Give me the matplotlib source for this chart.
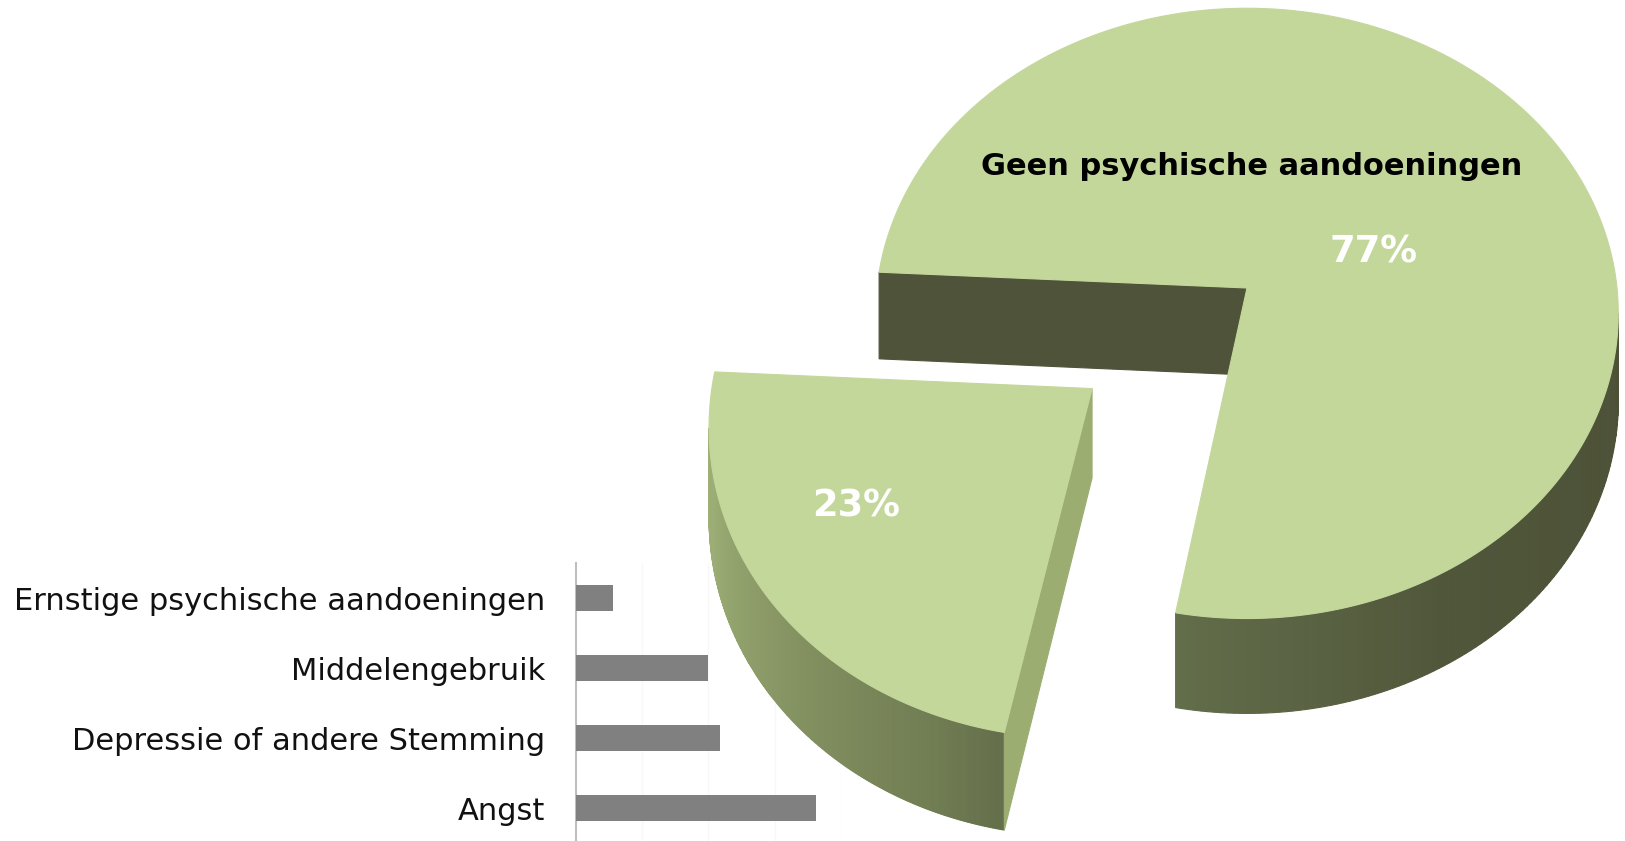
import numpy as np
import matplotlib.pyplot as plt
from matplotlib.patches import Polygon

# pie: people with / without a psychiatric disorder (%)
pie_names = ["Geen psychische aandoeningen", "Psychische aandoeningen"]
pie_shares = [77, 23]
pie_texts = ["77%", "23%"]

# breakdown of the 23%, lengths
bar_labels = ["Ernstige psychische aandoeningen", "Middelengebruik",
              "Depressie of andere Stemming", "Angst"]
bar_values = [2.8, 10.0, 10.9, 18.1]

W, H = 1625, 841

# look of the 3d pie (figure pixels, y pointing down)
CX, CY = 1247, 288      # centre of the top face
RAD = 370               # radius at the depth of the centre
TILT = 0.819            # flattening of the disc
DEPTH = 0.574           # how much the far side shrinks
DIST = 6.9
THICK = 87              # height of the side wall
START = 177.0           # angle where the small slice starts
EXPLODE = 0.52

TOP = "#C4D79B"
RIM_T = [180, 195, 250, 262, 300, 360]
RIM_C = np.array([(160, 177, 120), (157, 174, 117), (112, 124, 82),
                  (97, 108, 73), (80, 86, 58), (76, 81, 55)]) / 255


def project(x, y, z=0.0):
    k = DIST / (DIST + y * DEPTH)
    return CX + RAD * x * k, CY - RAD * y * TILT * k + z * THICK * k


def rim_colour(deg):
    deg = deg % 360
    return tuple(np.interp(deg, RIM_T, RIM_C[:, i]) for i in range(3))


def draw_slice(ax, a, b, off, side_colour):
    mid = np.radians((a + b) / 2)
    ox, oy = off * np.cos(mid), off * np.sin(mid)
    deg = np.linspace(a, b, 300)
    t = np.radians(deg)
    xs, ys = ox + np.cos(t), oy + np.sin(t)

    # curved side wall, only the parts facing us
    for i in range(len(t) - 1):
        p1 = project(xs[i], ys[i])
        p2 = project(xs[i + 1], ys[i + 1])
        if p2[0] <= p1[0]:
            continue
        quad = [p1, p2, project(xs[i + 1], ys[i + 1], 1), project(xs[i], ys[i], 1)]
        c = rim_colour((deg[i] + deg[i + 1]) / 2)
        ax.add_patch(Polygon(quad, closed=True, fc=c, ec=c, lw=0.8))

    # flat faces along the two radii
    P = np.array(project(ox, oy))
    M = np.array(project(ox + 0.5 * np.cos(mid), oy + 0.5 * np.sin(mid)))
    for ang in (a, b):
        r = np.radians(ang)
        qx, qy = ox + np.cos(r), oy + np.sin(r)
        Q = np.array(project(qx, qy))
        d = Q - P
        n = np.array([d[1], -d[0]])
        if np.dot(n, M - P) > 0:
            n = -n
        if n[1] <= 0:
            continue
        face = [P, Q, project(qx, qy, 1), project(ox, oy, 1)]
        ax.add_patch(Polygon(face, closed=True, fc=side_colour, ec=side_colour, lw=0.8))

    top = [project(ox, oy)] + [project(x, y) for x, y in zip(xs, ys)]
    ax.add_patch(Polygon(top, closed=True, fc=TOP, ec=TOP, lw=0.8))


fig = plt.figure(figsize=(W / 100, H / 100), dpi=100)

# bar chart at the bottom left
bax = fig.add_axes([575.5 / W, -2 / H, 265.6 / W, 280 / H])
y = np.arange(len(bar_labels))
bax.barh(y, bar_values, height=0.37, color="#808080", zorder=3)
bax.set_xlim(0, 20)
bax.set_ylim(len(bar_labels) - 0.5, -0.5)
bax.set_yticks(y)
bax.set_yticklabels(bar_labels, fontsize=22, color="#111111")
bax.tick_params(axis="y", length=0, pad=22)
bax.set_xticks([5, 10, 15, 20])
bax.tick_params(axis="x", length=0, labelbottom=False)
bax.grid(axis="x", color="#F8F8F8", lw=1)
for s in ["top", "right", "bottom"]:
    bax.spines[s].set_visible(False)
bax.spines["left"].set_color("#BFBFBF")
bax.spines["left"].set_linewidth(1.5)
bax.patch.set_alpha(0)

# 3d pie
ax = fig.add_axes([0, 0, 1, 1])
ax.set_xlim(0, W)
ax.set_ylim(H, 0)
ax.axis("off")

spans = np.array(pie_shares) / sum(pie_shares) * 360
a1, b1 = START, START + spans[1]
a0, b0 = b1, b1 + spans[0]
draw_slice(ax, a0, b0, 0.0, "#4F533A")
draw_slice(ax, a1, b1, EXPLODE, "#9CAD72")

ax.text(1252, 166, pie_names[0], ha="center", va="center",
        fontsize=22, fontweight="bold", color="black")
ax.text(1374, 252, pie_texts[0], ha="center", va="center",
        fontsize=26.5, fontweight="bold", color="white")
ax.text(856, 506, pie_texts[1], ha="center", va="center",
        fontsize=26.5, fontweight="bold", color="white")

fig.savefig("out.png", dpi=100)
